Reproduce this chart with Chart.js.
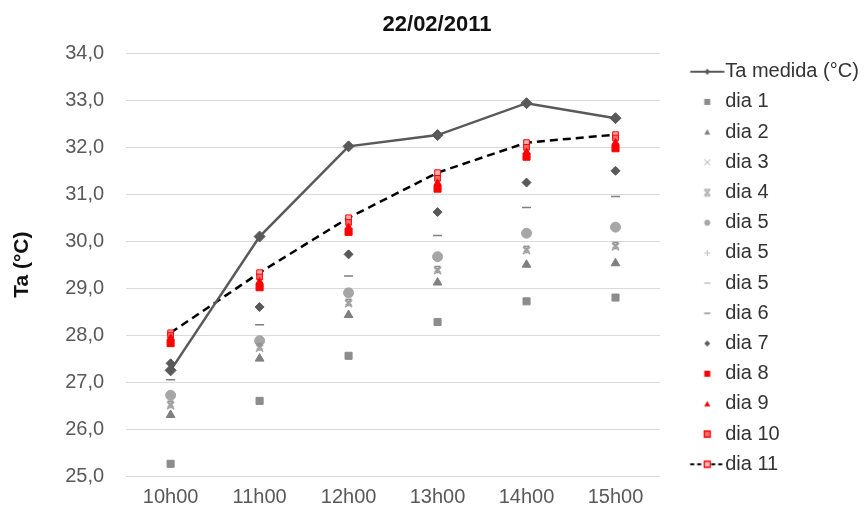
<!DOCTYPE html>
<html>
<head>
<meta charset="utf-8">
<script src="https://cdn.jsdelivr.net/npm/chart.js@4.4.0/dist/chart.umd.min.js"></script>
<style>
  html, body { margin: 0; padding: 0; background: #fff; }
  #wrap { width: 868px; height: 510px; position: relative; }
</style>
</head>
<body>
<div id="wrap"><canvas id="chart"></canvas></div>
<script>
// Hourly air temperature, 22/02/2011
const hours = ['10h00', '11h00', '12h00', '13h00', '14h00', '15h00'];
const yTicks = [25, 26, 27, 28, 29, 30, 31, 32, 33, 34];

const taMedida = [27.25, 30.10, 32.02, 32.26, 32.94, 32.62];
const dia1  = [25.26, 26.60, 27.56, 28.28, 28.72, 28.80];
const dia2  = [26.30, 27.50, 28.43, 29.12, 29.50, 29.53];
const dia3  = [26.50, 27.72, 28.67, 29.37, 29.80, 29.88];
const dia4  = [26.53, 27.75, 28.70, 29.40, 29.83, 29.91];
const dia5a = [26.72, 27.88, 28.90, 29.67, 30.17, 30.30];
const dia5b = [26.72, 27.88, 28.90, 29.67, 30.17, 30.30];
const dia5c = [26.70, 27.86, 28.88, 29.65, 30.15, 30.28];
const dia6  = [27.05, 28.22, 29.26, 30.12, 30.72, 30.95];
const dia7  = [27.40, 28.60, 29.72, 30.62, 31.25, 31.50];
const dia8  = [27.83, 29.02, 30.20, 31.12, 31.80, 31.98];
const dia9  = [27.94, 29.14, 30.30, 31.24, 31.90, 32.10];
const dia10 = [28.00, 29.24, 30.40, 31.34, 32.00, 32.20];
const dia11 = [28.05, 29.33, 30.50, 31.46, 32.10, 32.27];

const FONT = "'Liberation Sans', Arial, sans-serif";

// small canvas glyph: X with bars top and bottom
function hourglass(size, color) {
  const c = document.createElement('canvas');
  c.width = size; c.height = size;
  const g = c.getContext('2d');
  g.strokeStyle = color; g.lineWidth = 1.3;
  const a = 1.5, b = size - 1.5;
  g.beginPath();
  g.moveTo(a, a); g.lineTo(b, b);
  g.moveTo(b, a); g.lineTo(a, b);
  g.moveTo(a, a); g.lineTo(b, a);
  g.moveTo(a, b); g.lineTo(b, b);
  g.stroke();
  return c;
}

function drawGlyph(g, kind, x, y, r, fill, stroke) {
  g.fillStyle = fill; g.strokeStyle = stroke; g.lineWidth = 1;
  g.beginPath();
  switch (kind) {
    case 'rect': g.rect(x - r, y - r, 2 * r, 2 * r); g.fill(); break;
    case 'rectOpen': g.rect(x - r, y - r, 2 * r, 2 * r); g.fill(); g.lineWidth = 1.3; g.stroke(); break;
    case 'triangle': g.moveTo(x, y - r); g.lineTo(x + r, y + r * 0.8); g.lineTo(x - r, y + r * 0.8); g.closePath(); g.fill(); break;
    case 'diamond': g.moveTo(x, y - r); g.lineTo(x + r, y); g.lineTo(x, y + r); g.lineTo(x - r, y); g.closePath(); g.fill(); break;
    case 'circle': g.arc(x, y, r, 0, Math.PI * 2); g.fill(); break;
    case 'x': g.moveTo(x - r, y - r); g.lineTo(x + r, y + r); g.moveTo(x + r, y - r); g.lineTo(x - r, y + r); g.stroke(); break;
    case 'hg': g.drawImage(hourglass(2 * r + 3, stroke), x - r - 1.5, y - r - 1.5); break;
    case 'plus': g.moveTo(x - r, y); g.lineTo(x + r, y); g.moveTo(x, y - r); g.lineTo(x, y + r); g.stroke(); break;
    case 'dash': g.lineWidth = 1.5; g.moveTo(x - r, y); g.lineTo(x + r, y); g.stroke(); break;
  }
}

// legend symbol images (symbol sits right of the box centre)
function legendIcon(kind, fill, stroke, line) {
  const c = document.createElement('canvas');
  c.width = 64; c.height = 20;
  const g = c.getContext('2d');
  const cx = 46.5, cy = 10;
  if (line) {
    g.strokeStyle = line.color; g.lineWidth = 2;
    g.setLineDash(line.dash || []);
    g.beginPath(); g.moveTo(cx - 17, cy); g.lineTo(cx + 17, cy); g.stroke();
    g.setLineDash([]);
  }
  drawGlyph(g, kind, cx, cy, 3, fill, stroke);
  return c;
}

const series = [
  { label: 'Ta medida (°C)', data: taMedida, style: 'rectRot', r: 5.5, color: '#595959', line: true, icon: legendIcon('diamond', '#595959', '#595959', { color: '#595959' }) },
  { label: 'dia 1',  data: dia1,  style: 'rect',     r: 5,   color: '#8c8c8c', icon: legendIcon('rect', '#8c8c8c', '#8c8c8c') },
  { label: 'dia 2',  data: dia2,  style: 'triangle', r: 5,   color: '#7f7f7f', icon: legendIcon('triangle', '#7f7f7f', '#7f7f7f') },
  { label: 'dia 3',  data: dia3,  style: 'crossRot', r: 5,   color: '#a6a6a6', icon: legendIcon('x', '#a6a6a6', '#a6a6a6') },
  { label: 'dia 4',  data: dia4,  style: hourglass(9, '#8c8c8c'), r: 5, color: '#8c8c8c', icon: legendIcon('hg', '#8c8c8c', '#a6a6a6') },
  { label: 'dia 5',  data: dia5a, style: 'circle',   r: 5,   color: '#a6a6a6', icon: legendIcon('circle', '#a6a6a6', '#a6a6a6') },
  { label: 'dia 5',  data: dia5b, style: 'cross',    r: 4,   color: '#c8c8c8', icon: legendIcon('plus', '#bfbfbf', '#bfbfbf') },
  { label: 'dia 5',  data: dia5c, style: 'line',     r: 3,   color: '#c8c8c8', icon: legendIcon('dash', '#bfbfbf', '#bfbfbf') },
  { label: 'dia 6',  data: dia6,  style: 'line',     r: 4.5, color: '#7f7f7f', icon: legendIcon('dash', '#8c8c8c', '#8c8c8c') },
  { label: 'dia 7',  data: dia7,  style: 'rectRot',  r: 4.5, color: '#595959', icon: legendIcon('diamond', '#595959', '#595959') },
  { label: 'dia 8',  data: dia8,  style: 'rect',     r: 5,   color: '#ff0000', icon: legendIcon('rect', '#ff0000', '#ff0000') },
  { label: 'dia 9',  data: dia9,  style: 'triangle', r: 4,   color: '#ff0000', icon: legendIcon('triangle', '#ff0000', '#ff0000') },
  { label: 'dia 10', data: dia10, style: 'rect',     r: 4,   color: '#ff0000', fill: '#ff6b6b', icon: legendIcon('rectOpen', '#ff6b6b', '#ff0000') },
  { label: 'dia 11', data: dia11, style: 'rect',     r: 4,   color: '#ff0000', fill: '#ffb3b3', dashed: true, icon: legendIcon('rectOpen', '#ffc0c0', '#ff0000', { color: '#000000', dash: [4, 3] }) }
];

const datasets = series.map((s, i) => ({
  label: s.label,
  data: s.data,
  showLine: !!(s.line || s.dashed),
  borderColor: s.dashed ? '#000000' : s.color,
  borderWidth: (s.line || s.dashed) ? 2.5 : 0,
  borderDash: s.dashed ? [8, 5] : [],
  backgroundColor: s.fill || s.color,
  pointStyle: s.style,
  pointRadius: s.r,
  pointHoverRadius: s.r,
  pointBackgroundColor: s.fill || s.color,
  pointBorderColor: s.color,
  pointBorderWidth: (s.style === 'cross' || s.style === 'crossRot' || s.style === 'line') ? 1.5 : 1,
  tension: 0,
  order: s.dashed ? 14 : i,
  legendIcon: s.icon
}));

new Chart(document.getElementById('chart'), {
  type: 'line',
  data: { labels: hours, datasets },
  options: {
    responsive: true,
    maintainAspectRatio: false,
    animation: false,
    events: [],
    layout: { padding: { left: 6, right: 0, top: 0, bottom: -9 } },
    plugins: {
      tooltip: { enabled: false },
      title: {
        display: true,
        text: '22/02/2011',
        color: '#111111',
        font: { family: FONT, size: 22, weight: 'bold' },
        padding: { top: 12, bottom: 15 }
      },
      legend: {
        position: 'right',
        maxWidth: 208,
        title: { display: true, text: ' ', padding: 0, font: { size: 10, lineHeight: 1.7 } },
        labels: {
          usePointStyle: true,
          pointStyleWidth: 45,
          boxHeight: 12,
          padding: 10.2,
          color: '#333333',
          font: { family: FONT, size: 20 },
          generateLabels: (chart) => chart.data.datasets.map((ds, i) => ({
            text: ds.label,
            pointStyle: ds.legendIcon,
            fillStyle: ds.backgroundColor,
            strokeStyle: ds.borderColor,
            lineWidth: 0,
            hidden: false,
            datasetIndex: i,
            fontColor: '#333333'
          }))
        }
      }
    },
    scales: {
      x: {
        offset: true,
        grid: { display: false, drawTicks: false, offset: true },
        border: { display: false },
        ticks: { color: '#595959', font: { family: FONT, size: 20 }, padding: 9, maxRotation: 0 }
      },
      y: {
        min: yTicks[0],
        max: yTicks[yTicks.length - 1],
        afterBuildTicks: (axis) => { axis.ticks = yTicks.map(v => ({ value: v })); },
        grid: { color: '#d9d9d9', lineWidth: 1, drawTicks: false },
        border: { display: false },
        ticks: {
          color: '#595959',
          font: { family: FONT, size: 20 },
          padding: 22,
          callback: (v) => Number(v).toFixed(1).replace('.', ',')
        },
        title: {
          display: true,
          text: 'Ta (°C)',
          color: '#111111',
          font: { family: FONT, size: 21, weight: 'bold' },
          padding: { top: 4, bottom: 8 }
        }
      }
    }
  }
});
</script>
</body>
</html>
